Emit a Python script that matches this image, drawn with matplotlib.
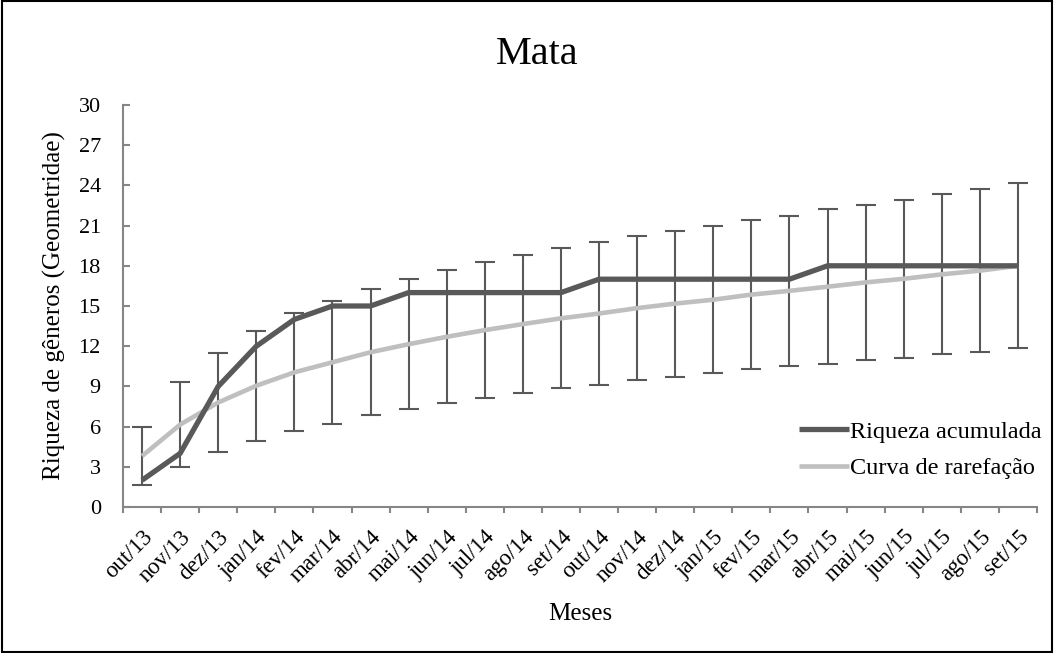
import matplotlib
matplotlib.use("Agg")
import matplotlib.pyplot as plt
from matplotlib.patches import Rectangle
import numpy as np

plt.rcParams['font.family'] = ['Liberation Serif', 'DejaVu Serif']

meses = ["out/13", "nov/13", "dez/13", "jan/14", "fev/14", "mar/14", "abr/14",
         "mai/14", "jun/14", "jul/14", "ago/14", "set/14", "out/14", "nov/14",
         "dez/14", "jan/15", "fev/15", "mar/15", "abr/15", "mai/15", "jun/15",
         "jul/15", "ago/15", "set/15"]

riqueza_acumulada = [2, 4, 9, 12, 14, 15, 15, 16, 16, 16, 16, 16,
                     17, 17, 17, 17, 17, 17, 18, 18, 18, 18, 18, 18]

curva_rarefacao = [3.8, 6.15, 7.8, 9.05, 10.05, 10.8, 11.55, 12.15, 12.7, 13.2,
                   13.65, 14.08, 14.44, 14.84, 15.18, 15.47, 15.85, 16.13, 16.44,
                   16.76, 17.03, 17.36, 17.64, 18.0]

desvio = [2.17, 3.2, 3.71, 4.12, 4.41, 4.57, 4.69, 4.86, 4.96, 5.05, 5.15, 5.22,
          5.31, 5.36, 5.45, 5.5, 5.58, 5.61, 5.77, 5.79, 5.89, 5.97, 6.07, 6.16]

escuro = "#595959"
claro = "#bfbfbf"
eixo = "#868686"

W, H = 1054, 653
fig = plt.figure(figsize=(W / 100, H / 100), dpi=100)
ax_l, ax_r, ax_t, ax_b = 123, 1037, 105, 507
ax = fig.add_axes([ax_l / W, 1 - ax_b / H, (ax_r - ax_l) / W, (ax_b - ax_t) / H])

x = np.arange(len(meses))

ax.errorbar(x, curva_rarefacao, yerr=desvio, fmt='none', ecolor=escuro,
            elinewidth=1.5, capsize=7.5, capthick=1.5, zorder=2)
ax.plot(x, curva_rarefacao, color=claro, lw=3.3, label="Curva de rarefação",
        zorder=3, solid_capstyle='butt')
ax.plot(x, riqueza_acumulada, color=escuro, lw=3.8, label="Riqueza acumulada",
        zorder=4, solid_capstyle='butt')

ax.set_xlim(-0.5, len(meses) - 0.5)
ax.set_ylim(0, 30)
ax.set_yticks(np.arange(0, 31, 3))
ax.set_xticks(x)
ax.set_xticklabels(meses, rotation=45, ha='right', va='top',
                   rotation_mode='anchor', fontsize=16.5)
ax.tick_params(axis='x', which='major', length=0, pad=14)
ax.set_xticks(np.arange(-0.5, len(meses), 1), minor=True)
ax.tick_params(axis='x', which='minor', length=4, direction='out',
               color=eixo, width=1.5)
ax.tick_params(axis='y', length=5, direction='in', color=eixo, width=1.5,
               labelsize=16, pad=16)

for s in ['top', 'right']:
    ax.spines[s].set_visible(False)
for s in ['left', 'bottom']:
    ax.spines[s].set_color(eixo)
    ax.spines[s].set_linewidth(1.5)

ax.set_ylabel("Riqueza de gêneros (Geometridae)", fontsize=18)
ax.yaxis.set_label_coords((66 - ax_l) / (ax_r - ax_l), 0.5)
ax.set_xlabel("Meses", fontsize=18, va='top')
ax.xaxis.set_label_coords(0.5, (ax_b - 603) / (ax_b - ax_t))

fig.text(537 / W, 1 - 55 / H, "Mata", fontsize=29, ha='center', va='center')

handles, labels = ax.get_legend_handles_labels()
leg = fig.legend(handles[::-1], labels[::-1], loc='center left',
                 bbox_to_anchor=(799 / W, 1 - 450 / H), frameon=False,
                 fontsize=17.5, handlelength=2.06, handletextpad=0.05,
                 labelspacing=0.6, borderpad=0, borderaxespad=0)

fig.add_artist(Rectangle((0.0015, 0.002), 0.997, 0.996, transform=fig.transFigure,
                         fill=False, edgecolor='black', lw=1.5))

fig.savefig("out.png", dpi=100)
